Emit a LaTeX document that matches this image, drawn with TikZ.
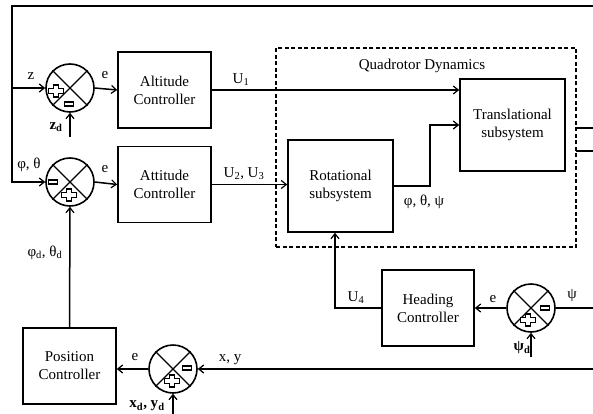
\documentclass[tikz,border=0pt]{standalone}
\usepackage{fontspec}
\setmainfont{Liberation Serif}
\usetikzlibrary{arrows.meta}
\tikzset{
  blk/.style={draw, line width=1.6pt, minimum width=93pt, minimum height=76pt, align=center, inner sep=0pt},
  bigblk/.style={blk, minimum width=105pt, minimum height=92pt},
  sumc/.style={draw, circle, line width=1.6pt, minimum size=48pt, inner sep=0pt},
  arr/.style={-{Straight Barb[length=5pt,width=8pt,line width=1.2pt]}},
  wire/.style={line width=1.5pt},
  lbl/.style={inner sep=0pt},
  sign/.style={draw, line width=1.2pt, fill=white},
  pics/plussign/.style={code={
    \draw[sign] (-7.5,-2.2) -- (-2.2,-2.2) -- (-2.2,-6) -- (2.2,-6) -- (2.2,-2.2) -- (7.5,-2.2)
      -- (7.5,2.2) -- (2.2,2.2) -- (2.2,6) -- (-2.2,6) -- (-2.2,2.2) -- (-7.5,2.2) -- cycle;}},
  pics/minussign/.style={code={
    \draw[sign] (-4.5,-2) rectangle (4.5,2);}}
}
\begin{document}
\begin{tikzpicture}[x=1pt,y=-1pt, font=\fontsize{15}{18}\selectfont, line width=1.5pt]
\useasboundingbox (0,0) rectangle (593,414);

% blocks
\node[blk] (alt) at (164.5,90) {Altitude\\Controller};
\node[blk] (att) at (164.5,184.5) {Attitude\\Controller};
\node[bigblk] (trans) at (512.5,125) {Translational\\subsystem};
\node[bigblk] (rot) at (340.5,186) {Rotational\\subsystem};
\node[blk, minimum width=92pt] (head) at (428,308) {Heading\\Controller};
\node[blk] (pos) at (69.5,366) {Position\\Controller};
\node[draw, line width=1.5pt, dash pattern=on 4pt off 2.5pt, minimum width=300pt, minimum height=199pt, inner sep=0pt] (qd) at (426,147.5) {};
\node[lbl] (qdl) at (422,66) {Quadrotor Dynamics};

% summing junctions
\node[sumc] (s1) at (70,88) {};
\node[sumc] (s2) at (70,182) {};
\node[sumc] (s3) at (531,308) {};
\node[sumc] (s4) at (173,369) {};
\foreach \s in {s1,s2,s3,s4}{
  \draw[line width=1.3pt] (\s.45) -- (\s.225);
  \draw[line width=1.3pt] (\s.135) -- (\s.315);
}
\pic at (56,91) {plussign};
\pic at (69,104) {minussign};
\pic at (53,182) {minussign};
\pic at (69,195) {plussign};
\pic at (545,308) {minussign};
\pic at (528,320) {plussign};
\pic at (187,368) {minussign};
\pic at (172,381) {plussign};

% coordinates
\coordinate (tr) at (593,6);
\coordinate (tl) at (12,6);
\coordinate (zj) at (12,88);
\coordinate (zd) at (70,137);
\coordinate (o1a) at (576,128);
\coordinate (o1b) at (593,128);
\coordinate (o2a) at (576,151);
\coordinate (o2b) at (593,151);
\coordinate (psin) at (593,308);
\coordinate (psid) at (531,357);
\coordinate (u4) at (335,308);
\coordinate (xyin) at (593,369);
\coordinate (xyd) at (173,414);

% connectors
\draw[wire, arr] (tr) -- (tl) |- (s2.west);
\draw[wire, arr] (zj) -- (s1.west);
\draw[wire, arr] (zd) -- (s1.south);
\draw[wire, arr] (s1.east) -- (alt.west);
\draw[wire, arr] (s2.east) -- (att.west);
\draw[wire, arr] (alt.east) -- (trans.west |- alt.east);
\draw[wire, arr] (att.east) -- (rot.west |- att.east);
\draw[wire, arr] (rot.east) -- ++(36,0) |- (trans.west);
\draw[wire] (o1a) -- (o1b);
\draw[wire] (o2a) -- (o2b);
\draw[wire] (psin) -- (s3.east);
\draw[wire, arr] (psid) -- (s3.south);
\draw[wire, arr] (s3.west) -- (head.east);
\draw[wire, arr] (head.west) -- (u4) -- (u4 |- rot.south);
\draw[wire, arr] (xyin) -- (s4.east);
\draw[wire, arr] (xyd) -- (s4.south);
\draw[wire, arr] (s4.west) -- (pos.east |- s4.west);
\draw[wire, arr] (pos.north) -- (s2.south);

% labels
\node[lbl] at (31,76) {z};
\node[lbl] at (105,75) {e};
\node[lbl] at (56,127) {$\mathbf{z}_{\mathbf{d}}$};
\node[lbl] at (29,165) {φ, θ};
\node[lbl] at (105,169) {e};
\node[lbl] at (241,80) {U\textsubscript{1}};
\node[lbl] at (244,174) {U\textsubscript{2}, U\textsubscript{3}};
\node[lbl] at (424,202) {φ, θ, ψ};
\node[lbl] at (45,253) {φ\textsubscript{d}, θ\textsubscript{d}};
\node[lbl] at (356,298) {U\textsubscript{4}};
\node[lbl] at (493,299) {e};
\node[lbl] at (572,296) {ψ};
\node[lbl] at (522,348) {\textbf{ψ\textsubscript{d}}};
\node[lbl] at (135,357) {e};
\node[lbl] at (230,360) {x, y};
\node[lbl] at (147,406) {\textbf{x\textsubscript{d}, y\textsubscript{d}}};
\end{tikzpicture}
\end{document}
